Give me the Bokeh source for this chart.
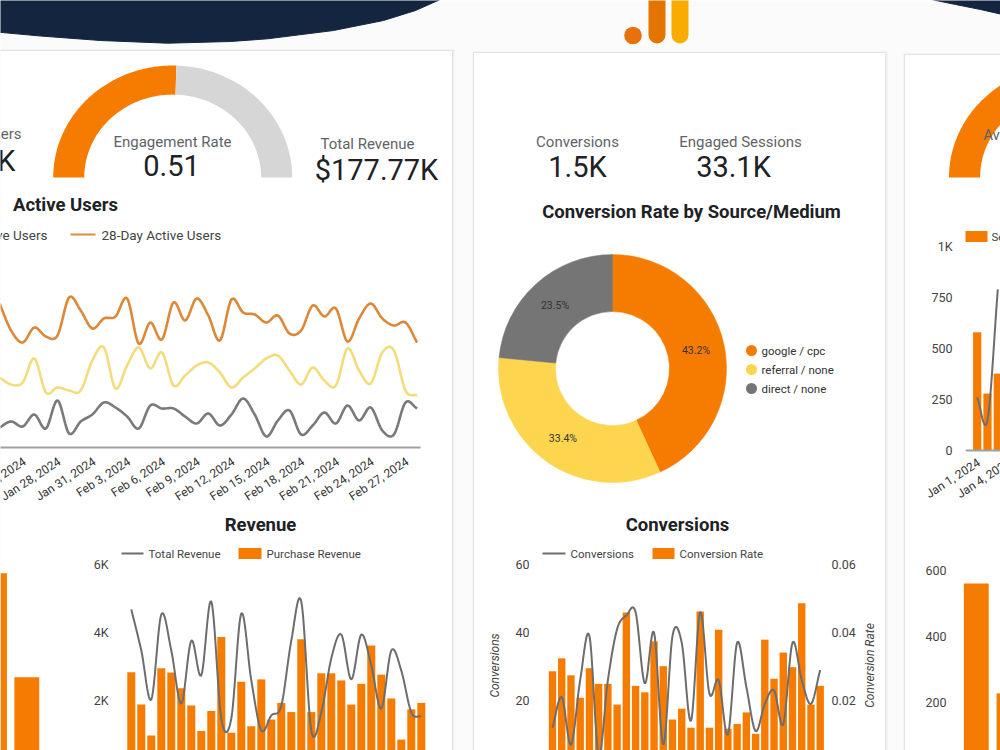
import numpy as np
import pandas as pd
from bokeh.plotting import figure
from bokeh.models import Range1d
from bokeh.core.properties import value
from bokeh.embed import file_html
from bokeh.resources import INLINE

# ---------------- data ----------------
kpi_active_users = "5.2K"
engagement_rate = 0.51
total_revenue = "$177.77K"
kpi_conversions = "1.5K"
kpi_engaged_sessions = "33.1K"
avg_session_gauge = 0.57

au_dates = pd.date_range("2024-01-23", "2024-02-28", freq="D")
au_28day = [1440, 1170, 1050, 1200, 1110, 1120, 1500, 1370, 1190, 1290, 1310, 1490, 1040,
            1250, 1080, 1450, 1270, 1490, 1320, 1070, 1480, 1350, 1330, 1250, 1320, 1140,
            1170, 1420, 1310, 1390, 1060, 1290, 1440, 1290, 1220, 1250, 1050]
au_7day = [700, 630, 650, 890, 550, 600, 570, 570, 870, 1000, 590, 820, 1000, 790, 950, 620,
           720, 820, 850, 750, 600, 700, 790, 890, 920, 770, 630, 800, 670, 620, 990, 770,
           640, 950, 970, 570, 520]
au_daily = [200, 260, 210, 330, 190, 470, 140, 260, 330, 450, 400, 310, 190, 420, 390, 390,
            310, 240, 340, 220, 330, 490, 330, 110, 270, 370, 130, 220, 350, 240, 420, 270,
            400, 170, 130, 450, 390]
au_tick_dates = pd.date_range("2024-01-25", "2024-02-27", freq="3D")

rev_dates = pd.date_range("2024-01-01", periods=30, freq="D")
rev_purchase = [2830, 1880, 970, 2950, 2820, 2360, 1850, 1100, 1690, 3870, 1050, 2550, 1240,
                2620, 1440, 1930, 1660, 3800, 1660, 2800, 2800, 2590, 1880, 2490, 3620, 2760,
                2060, 850, 1740, 1930]
rev_total = [4680, 3470, 2030, 4530, 3470, 1910, 3760, 2740, 4910, 1470, 1470, 4560, 2590,
             1120, 1560, 1850, 3760, 4910, 1120, 1650, 3240, 3940, 2620, 3940, 3030, 1760,
             3470, 2880, 1650, 1530]
rev_ticks = [2000, 4000, 6000]
rev_tick_labels = ["2K", "4K", "6K"]

src_labels = ["google / cpc", "referral / none", "direct / none"]
src_share = [43.2, 33.4, 23.5]
src_colors = ["#f57c00", "#fdd54f", "#757575"]

conv_dates = pd.date_range("2024-01-01", periods=30, freq="D")
conversions = [12, 21, 7, 26, 39, 4, 26, 41, 45, 46, 25, 40, 7, 39, 37, 14, 46, 22, 26, 10,
               37, 24, 11, 19, 23, 13, 37, 26, 19, 29]
conv_rate = [0.0286, 0.0324, 0.0274, 0.0208, 0.0295, 0.0249, 0.0249, 0.0188, 0.0459, 0.0243,
             0.0224, 0.0374, 0.0301, 0.0144, 0.0176, 0.0120, 0.0462, 0.0120, 0.0408, 0.0117,
             0.0131, 0.0165, 0.0102, 0.0379, 0.0264, 0.0341, 0.0298, 0.0486, 0.0188, 0.0243]
conv_ticks = [20, 40, 60]
rate_ticks = [0.02, 0.04, 0.06]

sess_dates = pd.date_range("2024-01-01", periods=3, freq="D")
sessions = [580, 279, 377]
sess_users = [260, 150, 790]
sess_ticks = [0, 250, 500, 750, 1000]
sess_tick_labels = ["0", "250", "500", "750", "1K"]
sess_tick_dates = pd.to_datetime(["2024-01-01", "2024-01-04"])

rb_values = [559, 228]
rb_ticks = [200, 400, 600]
lb_values = [590, 277]

# ---------------- helpers ----------------
W, H = 1000, 750
FONT = "Roboto"
ORANGE = "#f57c00"
DARK = "#202124"
GREY_TXT = "#5f6368"
LINE_GREY = "#6d6d6d"
TITLE = 18.5


def xmap(d0, d1, p0, p1):
    s = (d1 - d0) / (p1 - p0)
    start = d0 - p0 * s
    return Range1d(start=start, end=start + W * s)


def ymap(d0, d1, p0, p1):
    s = (d1 - d0) / (p0 - p1)
    return Range1d(start=d0 + (p0 - H) * s, end=d0 + p0 * s)


def Y(t):
    return H - np.asarray(t, dtype=float)


def smooth(xs, ys, n=12):
    P = np.column_stack([np.asarray(xs, float), np.asarray(ys, float)])
    P = np.vstack([2 * P[0] - P[1], P, 2 * P[-1] - P[-2]])
    out = []
    t = np.linspace(0, 1, n, endpoint=False)[:, None]
    for i in range(1, len(P) - 2):
        p0, p1, p2, p3 = P[i - 1], P[i], P[i + 1], P[i + 2]
        seg = 0.5 * ((2 * p1) + (-p0 + p2) * t + (2 * p0 - 5 * p1 + 4 * p2 - p3) * t ** 2
                     + (-p0 + 3 * p1 - 3 * p2 + p3) * t ** 3)
        out.append(seg)
    out.append(P[-2][None, :])
    arr = np.vstack(out)
    return arr[:, 0], arr[:, 1]


def day_num(dates):
    return np.asarray((pd.DatetimeIndex(dates) - pd.Timestamp("2024-01-01")).days, float)


def fmt_date(d):
    return f"{d:%b} {d.day}, {d.year}"


p = figure(width=W, height=H, x_range=Range1d(0, W), y_range=Range1d(0, H),
           x_axis_type=None, y_axis_type=None, toolbar_location=None,
           output_backend="svg", min_border=0, outline_line_color=None,
           background_fill_color="#fbfbfb", border_fill_color="#fbfbfb")

p.extra_x_ranges = {
    "au_x": xmap(57, 58, 405, 416.6),
    "rev_x": xmap(0, 29, 130.8, 420.8),
    "conv_x": xmap(0, 29, 552, 819.7),
    "donut_x": xmap(-1, 1, 498, 726),
    "g1_x": xmap(-1, 1, 52.7, 291.7),
    "g2_x": xmap(-1, 1, 948.5, 1187.5),
    "s_x": xmap(0, 1, 976.7, 987.0),
    "rb_x": xmap(0, 1, 975.8, 1008.5),
    "lb_x": xmap(0, 1, -6.0, 26.3),
}
p.extra_y_ranges = {
    "au_y": ymap(0, 1500, 447, 297),
    "rev_y": ymap(0, 6000, 768, 564),
    "conv_y": ymap(0, 60, 768, 564),
    "rate_y": ymap(0, 0.06, 768, 564),
    "donut_y": ymap(-1, 1, 482, 254),
    "g_y": ymap(0, 1, 177, 65),
    "s_y": ymap(0, 1000, 450, 246),
    "rb_y": ymap(0, 600, 768.5, 569.5),
}


def txt(x, y, s, size=12, color=DARK, align="center", baseline="middle", style="normal",
        angle=0.0, xr="default", yr="default"):
    if yr == "default":
        y = float(Y(y))
    p.text(x=[x], y=[y], text=[s], text_font=value(FONT), text_font_size=f"{size}px",
           text_color=color, text_align=align, text_baseline=baseline,
           text_font_style=style, angle=angle, x_range_name=xr, y_range_name=yr)


# ---------------- background: wave, logo, cards ----------------
wave_l = [(-2, -2), (-2, 31.7), (40, 35.5), (100, 40), (167, 42.7), (230, 41), (267, 38.3),
          (333, 30), (383, 20), (415, 10), (442, -2)]
wave_r = [(926, -2), (955, 4), (980, 9), (1002, 14), (1002, -2)]
for pts in (wave_l, wave_r):
    p.patch([a for a, b in pts], list(Y([b for a, b in pts])), fill_color="#14263f",
            line_color="#14263f")

p.segment(x0=[656.5, 679.5], y0=list(Y([-12, -12])), x1=[656.5, 679.5], y1=list(Y([34.5, 34.5])),
          line_color=["#e37400", "#f9ab00"], line_width=17, line_cap="round")
p.circle(x=[632.5], y=list(Y([35])), radius=8.8, fill_color="#e8710a", line_color=None)

cards = [(-20, 452, 50), (473, 885, 52), (904, 1020, 54)]
for l, r, t in cards:
    p.quad(left=[l - 1], right=[r + 2], top=list(Y([t - 1])), bottom=list(Y([H + 20])),
           fill_color="#e9e9e9", line_color=None, fill_alpha=0.7)
    p.quad(left=[l], right=[r], top=list(Y([t])), bottom=list(Y([H + 20])),
           fill_color="white", line_color="#e3e3e3", line_width=1)


# ---------------- gauges ----------------
def band(a0, a1, r_in=0.74, r_out=1.0, n=80):
    a = np.linspace(a0, a1, n)
    xs = np.r_[r_out * np.cos(a), r_in * np.cos(a[::-1])]
    ys = np.r_[r_out * np.sin(a), r_in * np.sin(a[::-1])]
    return list(xs), list(ys)


for gx, val in (("g1_x", engagement_rate), ("g2_x", avg_session_gauge)):
    split = np.pi * (1 - val)
    ox, oy = band(np.pi, split)
    gxs, gys = band(split, 0)
    p.patches(xs=[ox, gxs], ys=[oy, gys], fill_color=[ORANGE, "#d6d6d6"], line_color=None,
              x_range_name=gx, y_range_name="g_y")

# ---------------- left card KPIs ----------------
txt(21, 133, "Active Users", 15, GREY_TXT, align="right")
txt(15, 160, kpi_active_users, 29, DARK, align="right")
txt(172, 141, "Engagement Rate", 15, GREY_TXT)
txt(171, 165, f"{engagement_rate:.2f}", 29, DARK)
txt(367, 143, "Total Revenue", 15, GREY_TXT)
txt(376, 169, total_revenue, 29, DARK)

# ---------------- Active Users line chart ----------------
txt(65, 204, "Active Users", TITLE, DARK, style="bold")
txt(47, 234, "7-Day Active Users", 13.5, "#444444", align="right")
p.line(x=[70, 95], y=list(Y([234, 234])), line_color="#df8b3a", line_width=2)
txt(101, 234, "28-Day Active Users", 13.5, "#444444", align="left")

au_x = day_num(au_dates)
for series, col in ((au_daily, "#7a7a7a"), (au_7day, "#f2dc7c"), (au_28day, "#dc8838")):
    sx, sy = smooth(au_x, series)
    p.line(x=sx, y=sy, line_color=col, line_width=2.6, x_range_name="au_x", y_range_name="au_y")
p.line(x=[au_x[0] - 1, au_x[-1] + 0.3], y=[0, 0], line_color="#a0a0a0", line_width=2,
       x_range_name="au_x", y_range_name="au_y")
tick_x = day_num(au_tick_dates)
p.text(x=list(tick_x - 0.15), y=[-70] * len(tick_x), text=[fmt_date(d) for d in au_tick_dates],
       angle=np.deg2rad(33), text_align="right", text_baseline="top",
       text_font=value(FONT), text_font_size="12px", text_color="#333333",
       x_range_name="au_x", y_range_name="au_y")

# ---------------- left cut-off bar chart ----------------
p.vbar(x=[0, 1], top=lb_values, bottom=0, width=0.77, fill_color=ORANGE, line_color=None,
       x_range_name="lb_x", y_range_name="rb_y")

# ---------------- Revenue combo chart ----------------
txt(260, 524, "Revenue", TITLE, DARK, style="bold")
p.line(x=[121, 143], y=list(Y([553, 553])), line_color=LINE_GREY, line_width=2)
txt(148, 553, "Total Revenue", 11.5, "#444444", align="left")
p.quad(left=[238], right=[261], top=list(Y([547.5])), bottom=list(Y([558.5])),
       fill_color=ORANGE, line_color=None)
txt(266, 553, "Purchase Revenue", 11.5, "#444444", align="left")
for tv, tl in zip(rev_ticks, rev_tick_labels):
    txt(108, tv, tl, 12.5, "#444444", align="right", yr="rev_y")
rx = np.arange(len(rev_dates), dtype=float)
p.vbar(x=rx, top=rev_purchase, bottom=0, width=0.8, fill_color=ORANGE, line_color=None,
       x_range_name="rev_x", y_range_name="rev_y")
sx, sy = smooth(rx, rev_total)
p.line(x=sx, y=sy, line_color=LINE_GREY, line_width=2, x_range_name="rev_x", y_range_name="rev_y")

# ---------------- middle card ----------------
txt(577, 141, "Conversions", 15, GREY_TXT)
txt(577, 166, kpi_conversions, 29, DARK)
txt(740, 141, "Engaged Sessions", 15, GREY_TXT)
txt(733, 166, kpi_engaged_sessions, 29, DARK)
txt(691, 211, "Conversion Rate by Source/Medium", TITLE, DARK, style="bold")

share = np.asarray(src_share, float)
frac = share / share.sum()
cum = np.concatenate([[0.0], np.cumsum(frac)])
start_a = np.pi / 2 - cum[1:] * 2 * np.pi
end_a = np.pi / 2 - cum[:-1] * 2 * np.pi
p.annular_wedge(x=0, y=0, inner_radius=0.5, outer_radius=1.0, start_angle=list(start_a),
                end_angle=list(end_a), fill_color=src_colors, line_color=src_colors,
                line_width=0.5, x_range_name="donut_x", y_range_name="donut_y")
mid = (start_a + end_a) / 2
p.text(x=list(0.75 * np.cos(mid)), y=list(0.75 * np.sin(mid)), text=[f"{s}%" for s in src_share],
       text_align="center", text_baseline="middle", text_font=value(FONT),
       text_font_size="10.5px", text_color="#333333",
       x_range_name="donut_x", y_range_name="donut_y")
leg_y = [350, 369, 388]
p.circle(x=[751] * 3, y=list(Y(leg_y)), radius=5.5, fill_color=src_colors, line_color=None)
for lbl, ly in zip(src_labels, leg_y):
    txt(761, ly, lbl, 11.5, "#333333", align="left")

txt(677, 524, "Conversions", TITLE, DARK, style="bold")
p.line(x=[542, 565], y=list(Y([553, 553])), line_color=LINE_GREY, line_width=2)
txt(570, 553, "Conversions", 11.5, "#444444", align="left")
p.quad(left=[652], right=[674], top=list(Y([547.5])), bottom=list(Y([558.5])),
       fill_color=ORANGE, line_color=None)
txt(679, 553, "Conversion Rate", 11.5, "#444444", align="left")
for tv in conv_ticks:
    txt(529, tv, f"{tv}", 12.5, "#444444", align="right", yr="conv_y")
for tv in rate_ticks:
    txt(831, tv, f"{tv:.2f}", 12.5, "#444444", align="left", yr="rate_y")
txt(494, 665, "Conversions", 12, "#444444", style="italic", angle=np.pi / 2)
txt(869, 665, "Conversion Rate", 12, "#444444", style="italic", angle=np.pi / 2)
cx = np.arange(len(conv_dates), dtype=float)
p.vbar(x=cx, top=conv_rate, bottom=0, width=0.8, fill_color=ORANGE, line_color=None,
       x_range_name="conv_x", y_range_name="rate_y")
sx, sy = smooth(cx, conversions)
p.line(x=sx, y=sy, line_color=LINE_GREY, line_width=2, x_range_name="conv_x",
       y_range_name="conv_y")

# ---------------- right card ----------------
txt(1068, 134, "Average Session Duration", 15, GREY_TXT)
p.quad(left=[965], right=[987], top=list(Y([230.5])), bottom=list(Y([241.5])),
       fill_color=ORANGE, line_color=None)
txt(991, 236, "Sessions", 11.5, "#444444", align="left")
for tv, tl in zip(sess_ticks, sess_tick_labels):
    txt(952, tv, tl, 12.5, "#444444", align="right", yr="s_y")
sxv = day_num(sess_dates)
p.vbar(x=sxv, top=sessions, bottom=0, width=0.8, fill_color=ORANGE, line_color=None,
       x_range_name="s_x", y_range_name="s_y")
lx, ly = smooth(sxv, sess_users)
p.line(x=lx, y=ly, line_color=LINE_GREY, line_width=2, x_range_name="s_x", y_range_name="s_y")
p.line(x=[-1.1, 3.0], y=[0, 0], line_color="#a0a0a0", line_width=2, x_range_name="s_x",
       y_range_name="s_y")
stx = day_num(sess_tick_dates)
p.text(x=list(stx - 0.2), y=[-25] * len(stx), text=[fmt_date(d) for d in sess_tick_dates],
       angle=np.deg2rad(33), text_align="right", text_baseline="top",
       text_font=value(FONT), text_font_size="12px", text_color="#333333",
       x_range_name="s_x", y_range_name="s_y")

for tv in rb_ticks:
    txt(946, tv, f"{tv}", 12.5, "#444444", align="right", yr="rb_y")
p.vbar(x=[0, 1], top=rb_values, bottom=0, width=0.76, fill_color=ORANGE, line_color=None,
       x_range_name="rb_x", y_range_name="rb_y")

open("out.html", "w").write(file_html(p, INLINE))
